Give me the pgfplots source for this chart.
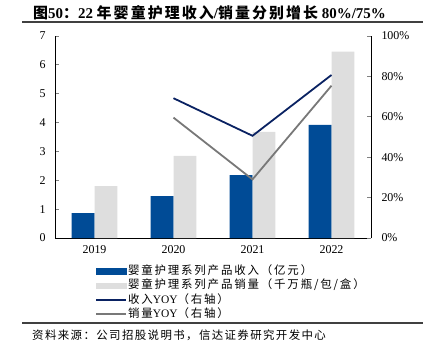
\documentclass[border=0pt]{standalone}
\usepackage{pgfplots}
\pgfplotsset{compat=1.18}
\usepackage{fontspec}
\setmainfont{Liberation Serif}
\newfontfamily\cjk{Noto Sans CJK SC}
\newfontfamily\cjkt{Noto Sans CJK SC}[LetterSpace=14]
\newfontfamily\cjkl{Noto Sans CJK SC}[LetterSpace=16]
\newfontfamily\cjkf{Noto Sans CJK SC}[LetterSpace=12]
\definecolor{barblue}{HTML}{004B96}
\definecolor{bargray}{HTML}{DEDEDE}
\definecolor{linenavy}{HTML}{0A2262}
\definecolor{linegray}{HTML}{787878}
\pgfplotsset{
  lineleg/.style={legend image code/.code={\draw[##1] (0bp,0bp) -- (30bp,0bp);}},
  barleg/.style={legend image code/.code={\fill[##1] (0bp,-2.6bp) rectangle (30bp,2.6bp);}},
}
\begin{document}
\begin{tikzpicture}
\useasboundingbox (0,-357bp) rectangle (423bp,0);
% title
\node[anchor=west,inner sep=0] at (33bp,-12.5bp) {\fontsize{15}{17}\selectfont\bfseries{\cjkt 图}50{\cjkt ：}22\ {\cjkt 年婴童护理收入}/{\cjkt 销量分别增长}\ 80\%/75\%};
\draw[line width=1.6bp,black!75] (22bp,-22bp) -- (423bp,-22bp);
% footer
\draw[line width=1.1bp,black!75] (22bp,-323bp) -- (423bp,-323bp);
\node[anchor=west,inner sep=0] at (32bp,-335bp) {\fontsize{11.5}{13}\selectfont\cjkf 资料来源：公司招股说明书，信达证券研究开发中心};

\begin{axis}[
  at={(55bp,-238bp)}, anchor=south west,
  scale only axis, width=316bp, height=202bp,
  xmin=-0.5, xmax=3.5, ymin=0, ymax=7,
  axis x line*=bottom, axis y line*=left,
  axis line style={line width=0.9bp,-},
  xtick={0,1,2,3}, xticklabels={2019,2020,2021,2022},
  xtick style={draw=none},
  ytick={0,1,...,7},
  tick align=inside, major tick length=4bp,
  ytick style={line width=0.9bp},
  ticklabel style={font=\fontsize{12}{14}\selectfont},
  /pgf/number format/assume math mode=true,
  yticklabel style={xshift=-6bp},
  xticklabel style={yshift=-4bp},
]
\addplot[ybar, bar width=0.29, bar shift=-0.145, fill=barblue, draw=none] coordinates {(0,0.86) (1,1.45) (2,2.18) (3,3.92)};
\addplot[ybar, bar width=0.29, bar shift=0.145, fill=bargray, draw=none] coordinates {(0,1.80) (1,2.85) (2,3.68) (3,6.46)};
\end{axis}

\begin{axis}[
  at={(55bp,-238bp)}, anchor=south west,
  scale only axis, width=316bp, height=202bp,
  xmin=-0.5, xmax=3.5, ymin=0, ymax=100,
  axis x line=none, axis y line*=right,
  axis line style={line width=0.9bp,-},
  ytick={0,20,...,100}, yticklabel={\pgfmathprintnumber{\tick}\%},
  tick align=inside, major tick length=4bp,
  ytick style={line width=0.9bp},
  ticklabel style={font=\fontsize{12}{14}\selectfont},
  /pgf/number format/assume math mode=true,
  yticklabel style={xshift=7bp},
  legend style={at={(0.1266,-0.13)}, anchor=north west, draw=none, fill=none, inner sep=0pt,
    font=\fontsize{11.5}{13}\selectfont,
    nodes={inner sep=1bp, text height=9bp, text depth=2.5bp}, row sep=0.8bp},
  legend cell align=left,
]
\addlegendimage{barleg, barblue}
\addlegendentry{\cjkl 婴童护理系列产品收入（亿元）}
\addlegendimage{barleg, bargray}
\addlegendentry{\cjkl 婴童护理系列产品销量（千万瓶/包/盒）}
\addplot[lineleg, linenavy, line width=1.8bp, mark=none] coordinates {(1,69.2) (2,50.6) (3,80.7)};
\addlegendentry{{\cjkl 收入}YOY{\cjkl （右轴）}}
\addplot[lineleg, linegray, line width=1.8bp, mark=none] coordinates {(1,59.6) (2,29.0) (3,75.4)};
\addlegendentry{{\cjkl 销量}YOY{\cjkl （右轴）}}
\end{axis}
\end{tikzpicture}
\end{document}
